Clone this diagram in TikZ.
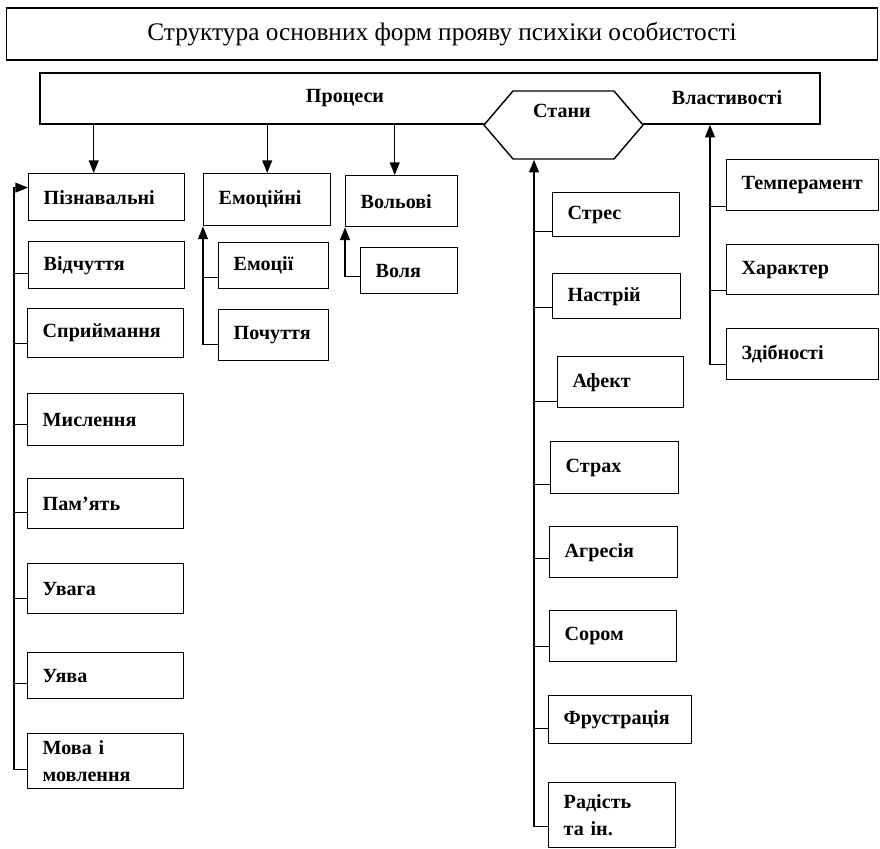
\documentclass[tikz,border=0pt]{standalone}
\usepackage{fontspec}
\setmainfont{Liberation Serif}
\usetikzlibrary{arrows.meta,calc,shapes.symbols}
\hyphenpenalty=10000
\newcommand{\lblfont}{\bfseries\fontsize{14.3}{19.5}\selectfont}
\newcommand{\ttlfont}{\fontsize{18}{21}\selectfont}
\tikzset{
  box/.style={draw, line width=1pt, fill=white, anchor=north west, align=left,
    font=\lblfont, inner xsep=0.375cm, inner ysep=0pt, minimum height=#1},
  box/.default=1.2cm,
  hdrtext/.style={font=\lblfont, inner sep=0pt},
  hexa/.style={draw, line width=1pt, fill=white, shape=signal, signal to=west and east,
    signal pointer angle=99, minimum width=3.975cm, minimum height=1.7cm, inner sep=0pt},
  arr/.style={line width=1pt, -{Triangle[length=9pt,width=7pt]}},
  link/.style={line width=1pt}
}
\begin{document}
\begin{tikzpicture}[x=0.025cm, y=-0.025cm]
        \useasboundingbox (0,0) rectangle (880,848);
        %%Title
        \node[draw, line width=0.8pt, minimum width=21.75cm, minimum height=1.3cm, font=\ttlfont]
          (ttl) at (442,34) {Структура основних форм прояву психіки особистості};
        %%Header
        \node[draw, line width=1pt, minimum width=19.5cm, minimum height=1.275cm] (hdr) at (430,98.5) {};
        \node[hexa] (stany) at (563.5,125) {};
        \node[hdrtext] (proc) at (345,98) {Процеси};
        \node[hdrtext] (stanyt) at (562,111) {Стани};
        \node[hdrtext] (vlast) at (727,98) {Властивості};
        %%Processes
        \node[box=1.175cm, text width=3.15cm] (pizn) at (28,173) {Пізнавальні};
        \node[box=1.175cm, text width=3.15cm] (vidch) at (28,241) {Відчуття};
        \node[box=1.225cm, text width=3.15cm] (spryim) at (27,308) {Сприймання};
        \node[box=1.3cm, text width=3.15cm] (mysl) at (27,393) {Мислення};
        \node[box=1.25cm, text width=3.15cm] (pamyat) at (27,478) {Пам’ять};
        \node[box=1.25cm, text width=3.15cm] (uvaha) at (27,563) {Увага};
        \node[box=1.15cm, text width=3.15cm] (uyava) at (27,652) {Уява};
        \node[box=1.375cm, text width=3.15cm] (mova) at (27,733) {Мова і\\мовлення};
        \node[box=1.3cm, text width=2.425cm] (emoc) at (203,173) {Емоційні};
        \node[box=1.15cm, text width=2cm] (emocii) at (218,242) {Емоції};
        \node[box=1.275cm, text width=2cm] (pochuttya) at (218,309) {Почуття};
        \node[box=1.275cm, text width=2.05cm] (vol) at (345,175) {Вольові};
        \node[box=1.15cm, text width=1.675cm] (volya) at (360,247) {Воля};
        %%States
        \node[box=1.1cm, text width=2.425cm] (stres) at (552,192) {Стрес};
        \node[box=1.125cm, text width=2.45cm] (nastriy) at (552,273) {Настрій};
        \node[box=1.275cm, text width=2.4cm] (afekt) at (557,356) {Афект};
        \node[box=1.3cm, text width=2.45cm] (strakh) at (550,441) {Страх};
        \node[box=1.275cm, text width=2.45cm] (ahres) at (549,526) {Агресія};
        \node[box=1.275cm, text width=2.425cm] (sorom) at (549,610) {Сором};
        \node[box=1.2cm, text width=2.825cm] (frustr) at (548,695) {Фрустрація};
        \node[box=1.625cm, text width=2.425cm] (radist) at (548,782) {Радість\\та ін.};
        %%Properties
        \node[box=1.275cm, text width=3.05cm] (temp) at (726,159) {Темперамент};
        \node[box=1.25cm, text width=3.05cm] (kharakter) at (726,244) {Характер};
        \node[box=1.275cm, text width=3.05cm] (zdibn) at (726,328) {Здібності};
        %%Arrows from header
        \coordinate (p1) at ($(pizn.north)+(-13,0)$);
        \coordinate (p3) at ($(vol.north)+(-7,0)$);
        \draw[arr] (p1 |- hdr.south) -- (p1);
        \draw[arr] (emoc.north |- hdr.south) -- (emoc.north);
        \draw[arr] (p3 |- hdr.south) -- (p3);
        %%Left branch
        \draw[arr] ([yshift=0.5cm]mova.south west) -- ++(-13,0) |- ([yshift=0.24cm]pizn.west);
        \foreach \b/\s in {vidch/0.4cm, spryim/0.375cm, mysl/0.55cm, pamyat/0.425cm, uvaha/0.4cm, uyava/0.4cm}
          \draw[link] ([yshift=\s]\b.south west) -- ++(-13,0);
        %%Emotions and will
        \draw[arr] ([yshift=0.425cm]pochuttya.south west) -| (emoc.south west);
        \draw[link] ([yshift=0.3cm]emocii.south west) -- ++(-15,0);
        \draw[arr] ([yshift=0.45cm]volya.south west) -| (vol.south west);
        %%States branch
        \draw[arr] ([yshift=0.55cm]radist.south west) -- ++(-14,0) coordinate (sx) -- (sx |- stany.south);
        \foreach \b/\s/\l in {stres/0.15cm/18, nastriy/0.3cm/18, afekt/0.175cm/23, strakh/0.25cm/16,
          ahres/0.5cm/15, sorom/0.4cm/15, frustr/0.4cm/14}
          \draw[link] ([yshift=\s]\b.south west) -- ++(-\l,0);
        %%Properties branch
        \draw[arr] ([yshift=0.4cm]zdibn.south west) -- ++(-16,0) coordinate (vx) -- (vx |- hdr.south);
        \foreach \b in {temp, kharakter}
          \draw[link] ([yshift=0.125cm]\b.south west) -- ++(-16,0);
\end{tikzpicture}
\end{document}
